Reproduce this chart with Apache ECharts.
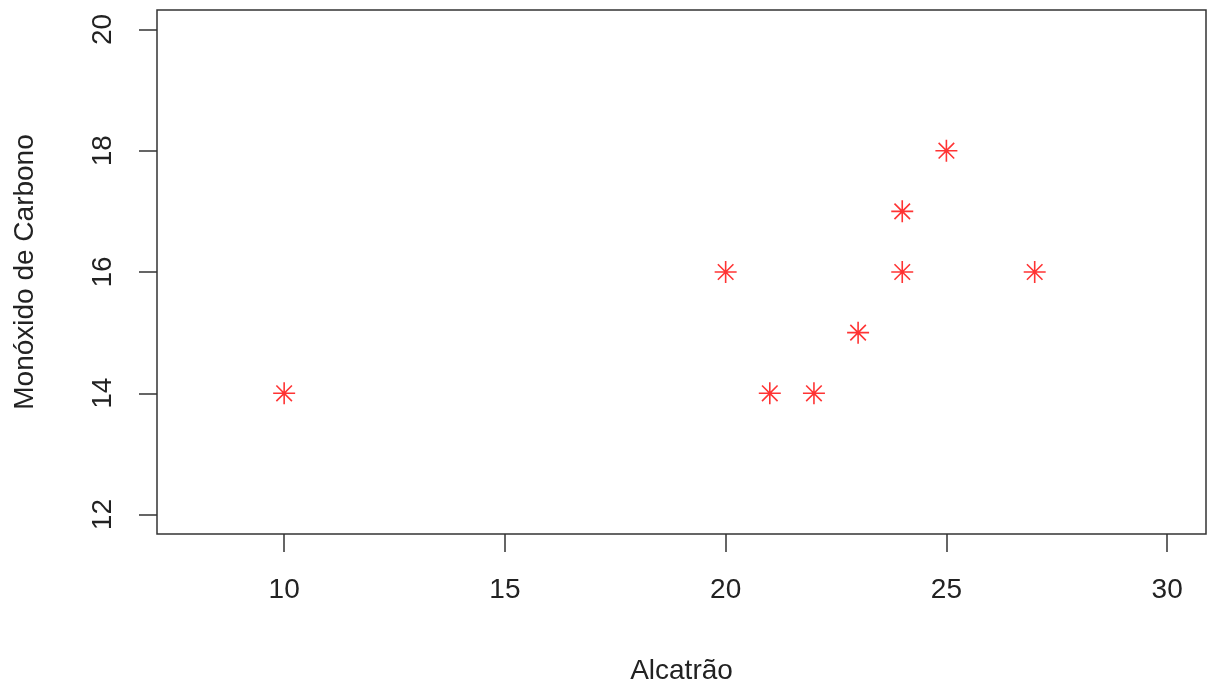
<!DOCTYPE html>
<html>
<head>
<meta charset="utf-8">
<script src="https://cdn.jsdelivr.net/npm/echarts@6/dist/echarts.min.js"></script>
<style>html,body{margin:0;padding:0;background:#fff;}#c{width:1208px;height:688px;}</style>
</head>
<body>
<div id="c"></div>
<script>
const alcatrao = [10, 20, 21, 22, 23, 24, 24, 25, 27];
const monoxido = [14, 16, 14, 14, 15, 17, 16, 18, 16];
const xTicks = [10, 15, 20, 25, 30];
const yTicks = [12, 14, 16, 18, 20];
const xTitle = 'Alcatrão';
const yTitle = 'Monóxido de Carbono';

const chart = echarts.init(document.getElementById('c'), null, {renderer: 'canvas'});
const font = 'Liberation Sans, Arial, sans-serif';
const ink = '#222';
const star = 'path://M0,-10L0,10M-10,0L10,0M-7.07,-7.07L7.07,7.07M-7.07,7.07L7.07,-7.07';
chart.setOption({
  animation: false,
  backgroundColor: '#fff',
  grid: {left: 157, right: 2, top: 10, bottom: 154, outerBoundsMode: 'none', containLabel: false, show: true, borderColor: '#333', borderWidth: 1.5, backgroundColor: 'transparent'},
  xAxis: {
    type: 'value', min: 7.12, max: 30.88,
    name: xTitle, nameLocation: 'middle', nameGap: 123,
    nameTextStyle: {fontFamily: font, fontSize: 28, color: ink},
    axisLine: {show: false},
    splitLine: {show: false},
    axisTick: {show: true, length: 18, customValues: xTicks, lineStyle: {color: '#333', width: 1.5}},
    axisLabel: {customValues: xTicks, margin: 42, fontFamily: font, fontSize: 28, color: ink}
  },
  yAxis: {
    type: 'value', min: 11.68, max: 20.32,
    name: yTitle, nameLocation: 'middle', nameGap: 118, nameRotate: 90,
    nameTextStyle: {fontFamily: font, fontSize: 28, color: ink},
    axisLine: {show: false},
    splitLine: {show: false},
    axisTick: {show: true, length: 18, customValues: yTicks, lineStyle: {color: '#333', width: 1.5}},
    axisLabel: {customValues: yTicks, rotate: 90, margin: 40, fontFamily: font, fontSize: 28, color: ink}
  },
  series: [{
    type: 'scatter',
    data: alcatrao.map((x, i) => [x, monoxido[i]]),
    symbol: star, symbolSize: 22,
    itemStyle: {color: 'rgba(0,0,0,0)', borderColor: '#f00', borderWidth: 1.6},
    emphasis: {disabled: true}
  }]
});
</script>
</body>
</html>
